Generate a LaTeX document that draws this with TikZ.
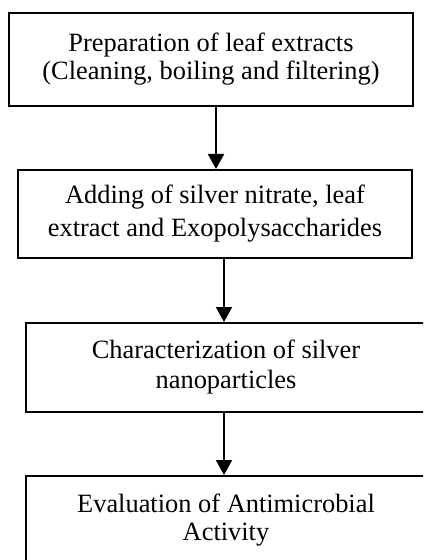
\documentclass[tikz,border=0pt]{standalone}
\usepackage{fontspec}
\setmainfont{Liberation Serif}
\usetikzlibrary{arrows.meta}
\begin{document}
\begin{tikzpicture}[x=0.5pt,y=-0.5pt,
  box/.style={draw,line width=1pt,rectangle,align=center,inner sep=0pt,
    font=\fontsize{13.2pt}{14.5pt}\selectfont},
  flow/.style={line width=1pt,-{Triangle[width=8pt,length=7.5pt]}}]
\useasboundingbox (0,0) rectangle (423,560);
\clip (0,0) rectangle (423,560);
\node[box,minimum width=202pt,minimum height=46.5pt] (b1) at (211,59.5)
  {Preparation of leaf extracts\\[-0.5pt](Cleaning, boiling and filtering)};
\node[box,minimum width=197pt,minimum height=44pt] (b2) at (215,214)
  {Adding of silver nitrate, leaf\\[2pt]extract and Exopolysaccharides};
\node[box,minimum width=200pt,minimum height=44.5pt] (b3) at (226,367.5)
  {Characterization of silver\\[0.5pt]nanoparticles};
\node[box,minimum width=200pt,minimum height=44pt] (b4) at (226,520)
  {Evaluation of Antimicrobial\\[-0.5pt]Activity};
\draw[flow] (b1.south -| 216,0) -- (b2.north -| 216,0);
\draw[flow] (b2.south -| 224,0) -- (b3.north -| 224,0);
\draw[flow] (b3.south -| 224,0) -- (b4.north -| 224,0);
\end{tikzpicture}
\end{document}
